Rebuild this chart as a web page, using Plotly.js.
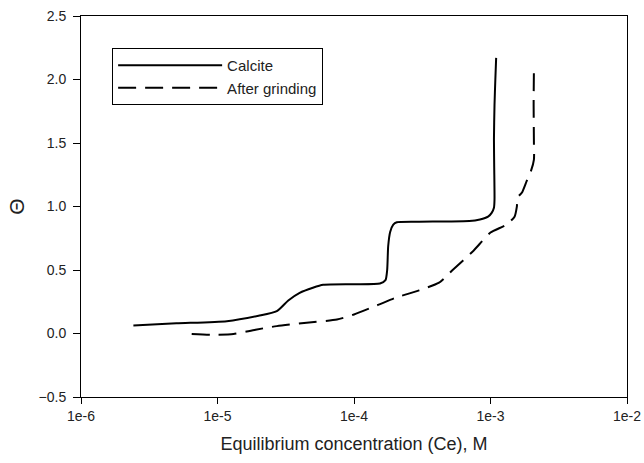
<!DOCTYPE html>
<html>
<head>
<meta charset="utf-8">
<script src="https://cdn.plot.ly/plotly-3.0.1.min.js"></script>
<style>html,body{margin:0;padding:0;background:#fff;}#chart{width:644px;height:463px;}</style>
</head>
<body>
<div id="chart"></div>
<script>
// Calcite (solid)
const calciteX = [2.42e-6, 5e-6, 1.17e-5, 2.0e-5, 2.72e-5, 3.3e-5, 4.0e-5, 5.0e-5, 5.95e-5, 1.0e-4, 1.55e-4, 1.7e-4, 1.75e-4, 1.78e-4, 1.84e-4, 1.94e-4, 2.06e-4, 3.0e-4, 4.78e-4, 7.0e-4, 8.37e-4, 9.6e-4, 1.02e-3, 1.06e-3, 1.07e-3, 1.065e-3, 1.06e-3, 1.07e-3, 1.085e-3, 1.10e-3];
const calciteY = [0.063, 0.08, 0.097, 0.14, 0.176, 0.26, 0.32, 0.36, 0.383, 0.388, 0.394, 0.42, 0.50, 0.687, 0.80, 0.858, 0.876, 0.88, 0.882, 0.885, 0.898, 0.92, 0.95, 0.99, 1.055, 1.3, 1.528, 1.8, 2.0, 2.17];
// After grinding (dashed)
const grindX = [6.47e-6, 9e-6, 1.31e-5, 1.9e-5, 2.72e-5, 4.5e-5, 7.5e-5, 1.0e-4, 1.5e-4, 2.0e-4, 3.0e-4, 4.2e-4, 5.28e-4, 7.48e-4, 1.0e-3, 1.3e-3, 1.5e-3, 1.56e-3, 1.58e-3, 1.7e-3, 1.84e-3, 1.98e-3, 2.08e-3, 2.08e-3, 2.07e-3, 2.08e-3];
const grindY = [-0.004, -0.01, -0.004, 0.03, 0.058, 0.085, 0.11, 0.15, 0.225, 0.28, 0.34, 0.40, 0.50, 0.65, 0.795, 0.855, 0.92, 1.0, 1.07, 1.11, 1.20, 1.28, 1.37, 1.5, 1.8, 2.08];
const seriesNames = ['Calcite', 'After grinding'];
const xTickVals = [1e-6, 1e-5, 1e-4, 1e-3, 1e-2];
const xTickText = ['1e-6', '1e-5', '1e-4', '1e-3', '1e-2'];
const yTickVals = [-0.5, 0, 0.5, 1.0, 1.5, 2.0, 2.5];

const font = 'Liberation Sans, Arial, sans-serif';
const traces = [
  {x: calciteX, y: calciteY, name: seriesNames[0], mode: 'lines',
   line: {color: '#000', width: 2, shape: 'spline', smoothing: 0.6}},
  {x: grindX, y: grindY, name: seriesNames[1], mode: 'lines',
   line: {color: '#000', width: 2, dash: '18px,9px', shape: 'spline', smoothing: 0.6}}
];
const layout = {
  width: 644, height: 463,
  margin: {l: 81, r: 17, t: 16, b: 66},
  paper_bgcolor: '#fff', plot_bgcolor: '#fff',
  font: {family: font, size: 14, color: '#222'},
  showlegend: true,
  legend: {x: 0.057, y: 0.916, xanchor: 'left', yanchor: 'top',
    bordercolor: '#000', borderwidth: 1, bgcolor: '#fff',
    itemwidth: 104, font: {family: font, size: 15, color: '#222'},
    tracegroupgap: 0},
  xaxis: {type: 'log', range: [-6, -2], tickvals: xTickVals, ticktext: xTickText,
    ticks: 'outside', ticklen: 6, tickcolor: '#000', showline: true, linecolor: '#000', linewidth: 1,
    mirror: true, showgrid: false, zeroline: false,
    tickfont: {family: font, size: 14, color: '#222'},
    title: {text: 'Equilibrium concentration (Ce), M', font: {family: font, size: 18, color: '#222'}, standoff: 14}},
  yaxis: {range: [-0.5, 2.5], tickvals: yTickVals, tickformat: '.1f',
    ticks: 'outside', ticklen: 7, tickcolor: '#000', showline: true, linecolor: '#000', linewidth: 1,
    mirror: true, showgrid: false, zeroline: false, ticklabelstandoff: 4,
    tickfont: {family: font, size: 14, color: '#222'},
    title: {text: 'Θ', font: {family: font, size: 21, color: '#222'}, standoff: 8}}
};
Plotly.newPlot('chart', traces, layout, {displayModeBar: false, staticPlot: true});
</script>
</body>
</html>
